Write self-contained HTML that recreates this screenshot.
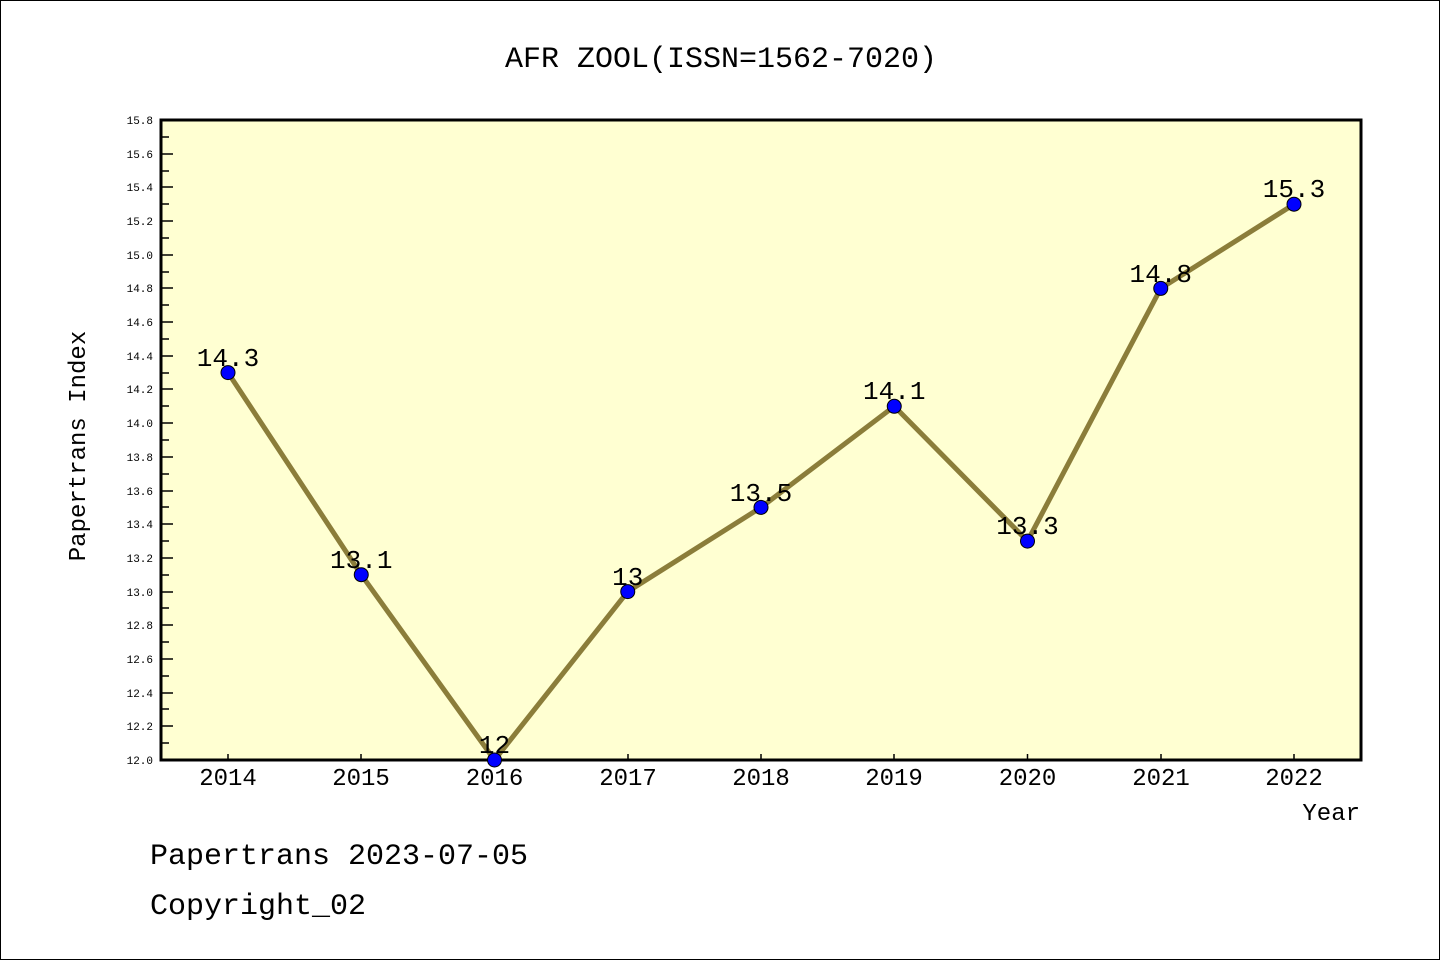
<!DOCTYPE html>
<html><head><meta charset="utf-8"><style>
html,body{margin:0;padding:0;background:#fff}
svg{display:block}
text{font-family:"Liberation Mono","Noto Sans CJK SC",monospace;fill:#000}
</style></head><body>
<svg width="1440" height="960" viewBox="0 0 1440 960" xmlns="http://www.w3.org/2000/svg">
<rect x="0.5" y="0.5" width="1439" height="959" fill="#fff" stroke="#000" stroke-width="1"/>
<text x="721" y="67" font-size="30" text-anchor="middle">AFR ZOOL(ISSN=1562-7020)</text>
<rect x="161" y="120" width="1200" height="640" fill="#ffffd2"/>
<g stroke="#000" stroke-width="1.5">
<line x1="161" y1="137" x2="169" y2="137"/><line x1="161" y1="154" x2="173" y2="154"/>
<line x1="161" y1="171" x2="169" y2="171"/><line x1="161" y1="187" x2="173" y2="187"/>
<line x1="161" y1="204" x2="169" y2="204"/><line x1="161" y1="221" x2="173" y2="221"/>
<line x1="161" y1="238" x2="169" y2="238"/><line x1="161" y1="255" x2="173" y2="255"/>
<line x1="161" y1="272" x2="169" y2="272"/><line x1="161" y1="288" x2="173" y2="288"/>
<line x1="161" y1="305" x2="169" y2="305"/><line x1="161" y1="322" x2="173" y2="322"/>
<line x1="161" y1="339" x2="169" y2="339"/><line x1="161" y1="356" x2="173" y2="356"/>
<line x1="161" y1="373" x2="169" y2="373"/><line x1="161" y1="389" x2="173" y2="389"/>
<line x1="161" y1="406" x2="169" y2="406"/><line x1="161" y1="423" x2="173" y2="423"/>
<line x1="161" y1="440" x2="169" y2="440"/><line x1="161" y1="457" x2="173" y2="457"/>
<line x1="161" y1="474" x2="169" y2="474"/><line x1="161" y1="491" x2="173" y2="491"/>
<line x1="161" y1="507" x2="169" y2="507"/><line x1="161" y1="524" x2="173" y2="524"/>
<line x1="161" y1="541" x2="169" y2="541"/><line x1="161" y1="558" x2="173" y2="558"/>
<line x1="161" y1="575" x2="169" y2="575"/><line x1="161" y1="592" x2="173" y2="592"/>
<line x1="161" y1="608" x2="169" y2="608"/><line x1="161" y1="625" x2="173" y2="625"/>
<line x1="161" y1="642" x2="169" y2="642"/><line x1="161" y1="659" x2="173" y2="659"/>
<line x1="161" y1="676" x2="169" y2="676"/><line x1="161" y1="693" x2="173" y2="693"/>
<line x1="161" y1="709" x2="169" y2="709"/><line x1="161" y1="726" x2="173" y2="726"/>
<line x1="161" y1="743" x2="169" y2="743"/>
<line x1="228" y1="760" x2="228" y2="754"/><line x1="361" y1="760" x2="361" y2="754"/>
<line x1="494.5" y1="760" x2="494.5" y2="754"/><line x1="628" y1="760" x2="628" y2="754"/>
<line x1="761" y1="760" x2="761" y2="754"/><line x1="894" y1="760" x2="894" y2="754"/>
<line x1="1027.5" y1="760" x2="1027.5" y2="754"/><line x1="1161" y1="760" x2="1161" y2="754"/>
<line x1="1294" y1="760" x2="1294" y2="754"/>
</g>
<rect x="161" y="120" width="1200" height="640" fill="none" stroke="#000" stroke-width="3"/>
<g font-size="11" text-anchor="end">
<text x="153" y="124">15.8</text><text x="153" y="158">15.6</text><text x="153" y="191">15.4</text>
<text x="153" y="225">15.2</text><text x="153" y="259">15.0</text><text x="153" y="292">14.8</text>
<text x="153" y="326">14.6</text><text x="153" y="360">14.4</text><text x="153" y="393">14.2</text>
<text x="153" y="427">14.0</text><text x="153" y="461">13.8</text><text x="153" y="495">13.6</text>
<text x="153" y="528">13.4</text><text x="153" y="562">13.2</text><text x="153" y="596">13.0</text>
<text x="153" y="629">12.8</text><text x="153" y="663">12.6</text><text x="153" y="697">12.4</text>
<text x="153" y="730">12.2</text><text x="153" y="764">12.0</text>
</g>
<g font-size="24" text-anchor="middle">
<text x="228" y="785">2014</text><text x="361" y="785">2015</text><text x="494.5" y="785">2016</text>
<text x="628" y="785">2017</text><text x="761" y="785">2018</text><text x="894" y="785">2019</text>
<text x="1027.5" y="785">2020</text><text x="1161" y="785">2021</text><text x="1294" y="785">2022</text>
</g>
<text x="1360" y="820" font-size="24" text-anchor="end">Year</text>
<text transform="translate(85,446) rotate(-90)" font-size="24" text-anchor="middle">Papertrans Index</text>
<polyline fill="none" stroke="#8b7d3a" stroke-width="5" stroke-linejoin="round" points="228,372.6 361.25,574.7 494.5,760 627.75,591.6 761,507.4 894.25,406.3 1027.5,541.1 1160.75,288.4 1294,204.2"/>
<g fill="#0000ff" stroke="#000" stroke-width="1">
<circle cx="228" cy="372.6" r="7"/><circle cx="361.25" cy="574.7" r="7"/><circle cx="494.5" cy="760" r="7"/>
<circle cx="627.75" cy="591.6" r="7"/><circle cx="761" cy="507.4" r="7"/><circle cx="894.25" cy="406.3" r="7"/>
<circle cx="1027.5" cy="541.1" r="7"/><circle cx="1160.75" cy="288.4" r="7"/><circle cx="1294" cy="204.2" r="7"/>
</g>
<g font-size="26" text-anchor="middle">
<text x="228" y="366">14.3</text><text x="361.25" y="568">13.1</text><text x="494.5" y="753">12</text>
<text x="627.75" y="585">13</text><text x="761" y="501">13.5</text><text x="894.25" y="399">14.1</text>
<text x="1027.5" y="534">13.3</text><text x="1160.75" y="282">14.8</text><text x="1294" y="197">15.3</text>
</g>
<text x="150" y="864" font-size="30">Papertrans 2023-07-05</text>
<text x="150" y="914" font-size="30">Copyright_02</text>
</svg>
</body></html>
